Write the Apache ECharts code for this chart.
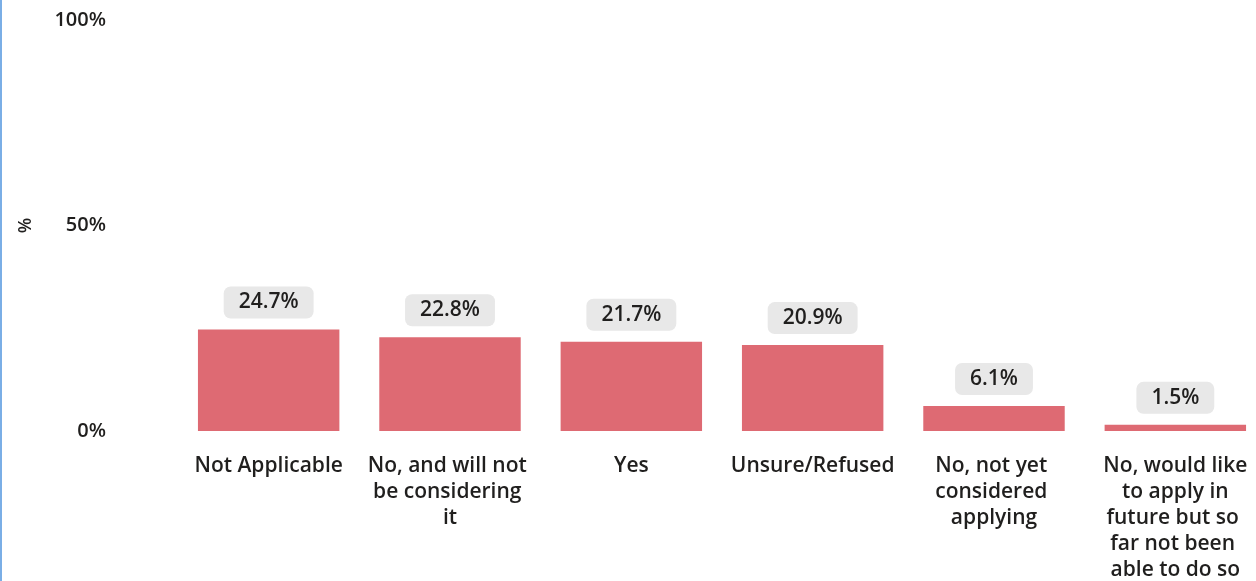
<!DOCTYPE html>
<html>
<head>
<meta charset="utf-8">
<script src="https://cdn.jsdelivr.net/npm/echarts@6/dist/echarts.min.js"></script>
<style>
  html, body { margin: 0; padding: 0; background: #fff; }
  #chart { position: absolute; left: 0; top: 0; width: 1256px; height: 581px; }
  #edge { position: absolute; left: 0; top: 0; width: 2px; height: 581px; background: #7aaee6; }
</style>
</head>
<body>
<div id="chart"></div>
<div id="edge"></div>
<script>
// Survey answers and their shares (%)
const categories = [
  'Not Applicable',
  'No, and will not be considering it',
  'Yes',
  'Unsure/Refused',
  'No, not yet considered applying',
  'No, would like to apply in future but so far not been able to do so'
];
const shares = [24.7, 22.8, 21.7, 20.9, 6.1, 1.5];
const yTicks = [0, 50, 100];

const chart = echarts.init(document.getElementById('chart'), null, { renderer: 'canvas' });
const font = '"Open Sans", "Noto Sans", sans-serif';
const ink = '#201f1e';

// the rightmost label sits against the edge, so it wraps narrower
const categoryItems = categories.map((c, i) =>
  i === categories.length - 1 ? { value: c, textStyle: { width: 148 } } : c
);

chart.setOption({
  animation: false,
  grid: { left: 178, right: -10, top: 20, bottom: 150, outerBoundsMode: 'none' },
  xAxis: {
    type: 'category',
    data: categoryItems,
    axisLine: { show: false },
    axisTick: { show: false },
    axisLabel: {
      interval: 0,
      margin: 22,
      width: 165,
      overflow: 'break',
      lineHeight: 26,
      fontSize: 21,
      fontWeight: 600,
      fontFamily: font,
      color: ink
    }
  },
  yAxis: {
    type: 'value',
    min: yTicks[0],
    max: yTicks[yTicks.length - 1],
    interval: 50,
    name: '%',
    nameLocation: 'middle',
    nameGap: 143,
    nameRotate: 90,
    nameTextStyle: { fontSize: 18, fontWeight: 600, fontFamily: font, color: ink },
    splitLine: { show: false },
    axisLine: { show: false },
    axisTick: { show: false },
    axisLabel: {
      margin: 72,
      fontSize: 20,
      fontWeight: 600,
      fontFamily: font,
      color: ink,
      formatter: v => v + '%'
    }
  },
  series: [{
    type: 'bar',
    data: shares,
    barCategoryGap: '22%',
    itemStyle: { color: '#de6a73' },
    label: {
      show: true,
      position: 'top',
      distance: 11,
      formatter: p => p.value.toFixed(1) + '%',
      fontSize: 21,
      lineHeight: 22,
      fontWeight: 600,
      fontFamily: font,
      color: ink,
      backgroundColor: '#e8e8e8',
      borderRadius: 7,
      padding: [5, 15, 5, 15]
    }
  }]
});
</script>
</body>
</html>
